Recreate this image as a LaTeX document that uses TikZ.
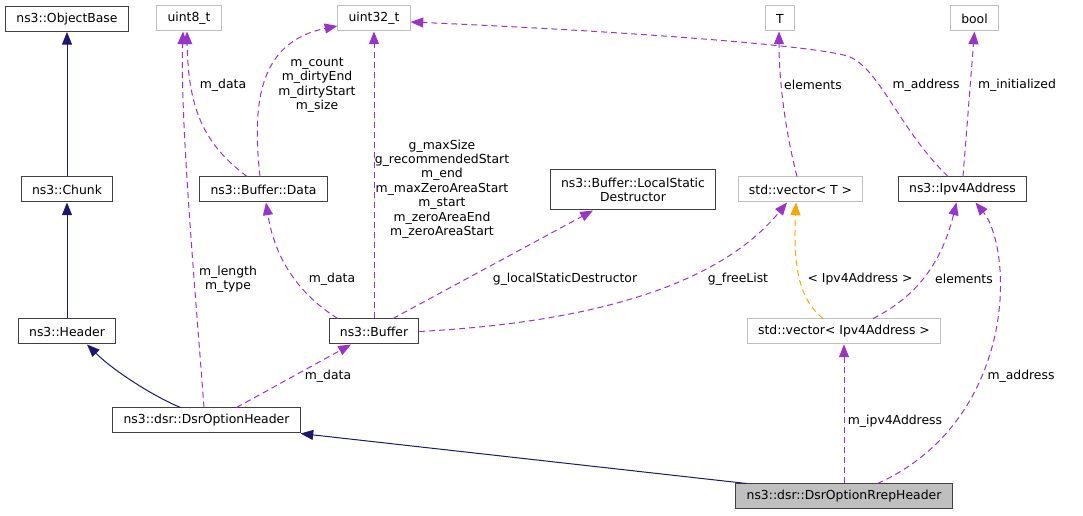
\documentclass[tikz,border=0pt]{standalone}
\usepackage{fontspec}
\setmainfont{DejaVu Sans}
\usetikzlibrary{arrows, arrows.meta}
\usetikzlibrary{calc}

\definecolor{inhcol}{HTML}{191970}
\definecolor{memcol}{HTML}{9A32CD}
\definecolor{tplcol}{HTML}{FFA500}
\definecolor{extcol}{HTML}{BFBFBF}

\begin{document}
\begin{tikzpicture}[x=0.75pt, y=-0.75pt,
    font=\fontsize{9.3}{10.8}\selectfont,
    cls/.style={draw=black!75, line width=0.75pt, inner xsep=8pt, inner ysep=0pt, minimum height=18.75pt},
    ext/.style={cls, draw=extcol},
    inh/.style={draw=inhcol, line width=0.75pt, -{Triangle[length=9.5pt, width=7.5pt, fill=inhcol]}},
    member/.style={draw=memcol, line width=0.75pt, dash pattern=on 4.5pt off 3pt, -{Triangle[length=9.5pt, width=7.5pt, fill=memcol]}},
    tpl/.style={draw=tplcol, line width=0.75pt, dash pattern=on 4.5pt off 3pt, -{Triangle[length=9.5pt, width=7.5pt, fill=tplcol]}},
    lbl/.style={align=center, inner sep=0pt}]
      \useasboundingbox (0,0) rectangle (1083,516);

      % classes
      \node[cls] (ob) at (67,19) {ns3::ObjectBase};
      \node[ext] (u8) at (189,18.5) {uint8\_t};
      \node[ext] (u32) at (374,18.5) {uint32\_t};
      \node[ext] (T) at (780,18.5) {T};
      \node[ext] (bool) at (974.5,18.5) {bool};
      \node[cls] (chunk) at (67,189.5) {ns3::Chunk};
      \node[cls] (bdata) at (263.5,189.5) {ns3::Buffer::Data};
      \node[cls, align=center, minimum height=30pt] (lsd) at (633,190) {ns3::Buffer::LocalStatic\\Destructor};
      \node[ext] (vecT) at (800.5,189.5) {std::vector< T >};
      \node[cls] (ipv4) at (962.5,189.5) {ns3::Ipv4Address};
      \node[cls] (header) at (67,331.5) {ns3::Header};
      \node[cls] (buffer) at (374,331.5) {ns3::Buffer};
      \node[ext] (vecIp) at (844,331.5) {std::vector< Ipv4Address >};
      \node[cls] (dsr) at (206.5,420.5) {ns3::dsr::DsrOptionHeader};
      \node[cls, fill=extcol] (rrep) at (844,496.5) {ns3::dsr::DsrOptionRrepHeader};

      % inheritance
      \draw[inh] (chunk.north) -- (ob.south);
      \draw[inh] (header.north) -- (chunk.south);
      \draw[inh] ($(dsr.north)+(-26,0)$) .. controls (155,397) and (115,372) .. ($(header.south)+(20,0)$);
      \draw[inh] ($(rrep.north west)+(11,0)$) -- (dsr.south east);

      % members
      \draw[member] ($(dsr.north)+(-2.5,0)$) .. controls (196,300) and (180,120) .. ($(u8.south)+(-6,0)$);
      \draw[member] ($(bdata.north)+(-16.5,0)$) .. controls (205,145) and (188,110) .. ($(u8.south)+(-2,0)$);
      \draw[member] ($(bdata.north)+(-3.5,0)$) .. controls (252,105) and (258,42) .. ($(u32.west)+(0,7.5)$);
      \draw[member] (buffer.north) -- (u32.south);
      \draw[member] ($(buffer.north west)+(9,0)$) .. controls (300,295) and (275,260) .. ($(bdata.south)+(2.5,0)$);
      \draw[member] ($(buffer.north)+(19,0)$) -- ($(lsd.south)+(-40,0)$);
      \draw[member] (buffer.east) .. controls (600,322) and (722,282) .. ($(vecT.south)+(-13.5,0)$);
      \draw[member] ($(vecT.north)+(-3.5,0)$) .. controls (785,130) and (779,80) .. ($(T.south)+(-1,0)$);
      \draw[member] ($(ipv4.north)+(-14.5,0)$) .. controls (900,130) and (880,70) .. (850,57)
            .. controls (820,45) and (600,30) .. ($(u32.east)+(0,3.5)$);
      \draw[member] ($(ipv4.north)+(0.5,0)$) -- (bool.south);
      \draw[tpl] ($(vecIp.north)+(-21,0)$) .. controls (800,300) and (793,270) .. ($(vecT.south)+(-4.5,0)$);
      \draw[member] ($(vecIp.north)+(29,0)$) .. controls (910,300) and (940,270) .. ($(ipv4.south)+(-6,0)$);
      \draw[member] (rrep.north) -- (vecIp.south);
      \draw[member] ($(rrep.north)+(33.5,0)$) .. controls (975,440) and (1005,340) .. (1000,270)
            .. controls (998,240) and (990,220) .. ($(ipv4.south)+(13,0)$);
      \draw[member] ($(dsr.north)+(30,0)$) -- ($(buffer.south)+(-23,0)$);

      % labels
      \node[lbl] (l1) at (228,279) {m\_length\\m\_type};
      \node[lbl] (l2) at (223,85) {m\_data};
      \node[lbl] (l3) at (317,85) {m\_count\\m\_dirtyEnd\\m\_dirtyStart\\m\_size};
      \node[lbl] (l4) at (442,189) {g\_maxSize\\g\_recommendedStart\\m\_end\\m\_maxZeroAreaStart\\m\_start\\m\_zeroAreaEnd\\m\_zeroAreaStart};
      \node[lbl] (l5) at (332,279) {m\_data};
      \node[lbl] (l6) at (565,279) {g\_localStaticDestructor};
      \node[lbl] (l7) at (738,279) {g\_freeList};
      \node[lbl] (l8) at (860,279) {< Ipv4Address >};
      \node[lbl] (l9) at (964,279) {elements};
      \node[lbl] (l10) at (813,85) {elements};
      \node[lbl] (l11) at (926,85) {m\_address};
      \node[lbl] (l12) at (1017,85) {m\_initialized};
      \node[lbl] (l13) at (1021,376) {m\_address};
      \node[lbl] (l14) at (895,421) {m\_ipv4Address};
      \node[lbl] (l15) at (328,376) {m\_data};
    \end{tikzpicture}
\end{document}
